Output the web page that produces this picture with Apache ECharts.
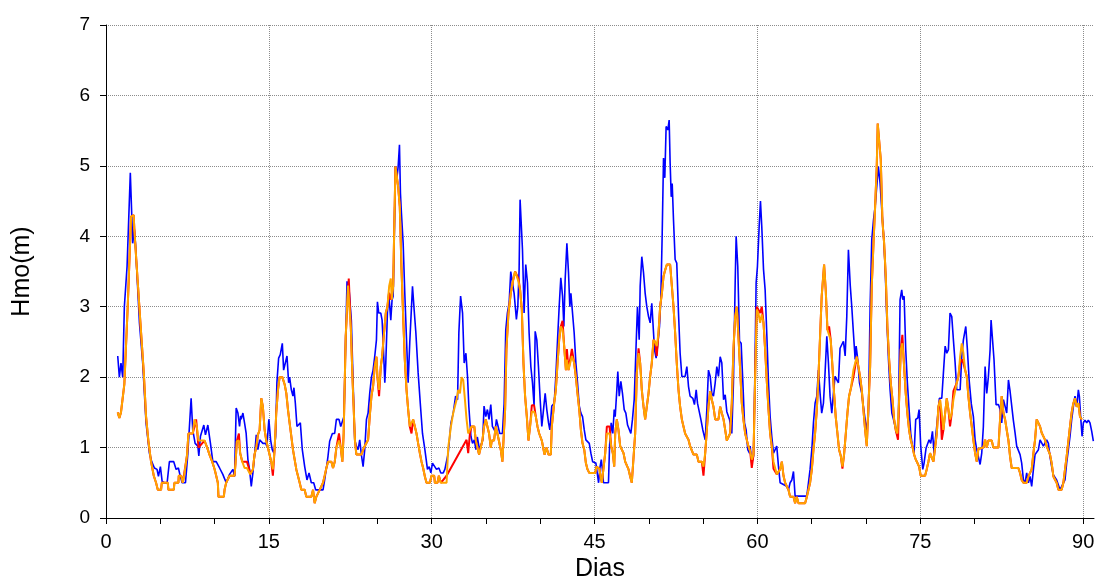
<!DOCTYPE html>
<html lang="es">
<head>
    <meta charset="UTF-8">
    <title>Hmo</title>
    <script src="https://cdn.jsdelivr.net/npm/echarts@6/dist/echarts.min.js"></script>
    <style>
        body { margin: 0; background: #fff; }
    </style>
</head>
<body>

<div id="main" style="width: 1097px;height:580px;"></div>
<script type="text/javascript">

    // eje x
    var xLabelTicks = [0, 15, 30, 45, 60, 75, 90];
    var xSmallTicks = [0, 5, 10, 15, 20, 25, 30, 35, 40, 45, 50, 55, 60, 65, 70, 75, 80, 85, 90];
    var yLabelTicks = [0, 1, 2, 3, 4, 5, 6, 7];

    // serie azul
    var blueDays = [1.08, 1.23, 1.38, 1.54, 1.69, 1.94, 2.24, 2.46, 2.61, 2.71, 2.86, 3.08, 3.38, 3.69, 4.00, 4.21, 4.46, 4.70, 4.83, 5.01,
        5.17, 5.38, 5.63, 5.84, 6.24, 6.46, 6.67, 6.80, 7.01, 7.32, 7.53, 7.69, 7.84, 7.99, 8.21, 8.46, 8.55, 8.70, 9.01, 9.16,
        9.38, 9.62, 9.84, 10.15, 10.46, 10.76, 11.07, 11.38, 11.69, 11.84, 11.99, 12.15, 12.30, 12.40, 12.45, 12.61, 12.76, 12.91, 13.07, 13.22,
        13.38, 13.53, 13.68, 13.84, 13.99, 14.15, 14.30, 14.45, 14.70, 14.82, 15.00, 15.16, 15.31, 15.47, 15.62, 15.74, 15.90, 16.05, 16.24, 16.36,
        16.54, 16.67, 16.82, 16.91, 17.07, 17.22, 17.31, 17.44, 17.59, 17.77, 17.90, 18.08, 18.30, 18.51, 18.70, 18.91, 19.13, 19.31, 19.99, 20.14,
        20.30, 20.45, 20.60, 20.85, 21.06, 21.22, 21.46, 21.62, 21.77, 21.92, 22.08, 22.20, 22.39, 22.60, 22.91, 23.06, 23.22, 23.37, 23.52, 23.68,
        23.83, 23.99, 24.14, 24.29, 24.45, 24.60, 24.75, 24.91, 25.00, 25.12, 25.31, 25.43, 25.52, 25.68, 25.77, 25.92, 26.04, 26.23, 26.35, 26.45,
        26.54, 26.66, 26.81, 26.91, 27.03, 27.12, 27.21, 27.37, 27.52, 27.68, 27.83, 27.98, 28.14, 28.23, 28.38, 28.54, 28.75, 28.97, 29.15, 29.37,
        29.61, 29.77, 29.92, 30.07, 30.23, 30.44, 30.66, 30.84, 31.06, 31.21, 31.52, 31.77, 31.98, 32.20, 32.38, 32.50, 32.66, 32.84, 32.99, 33.15,
        33.30, 33.42, 33.61, 33.76, 33.92, 34.07, 34.20, 34.40, 34.55, 34.70, 34.82, 34.98, 35.13, 35.28, 35.44, 35.59, 35.74, 35.84, 35.96, 36.14,
        36.27, 36.51, 36.67, 36.82, 36.97, 37.13, 37.28, 37.43, 37.59, 37.74, 37.80, 37.93, 38.05, 38.14, 38.30, 38.36, 38.51, 38.66, 38.82, 38.97,
        39.13, 39.28, 39.43, 39.53, 39.68, 39.83, 39.99, 40.14, 40.30, 40.45, 40.60, 40.76, 40.88, 41.06, 41.28, 41.43, 41.59, 41.74, 41.89, 42.05,
        42.17, 42.29, 42.45, 42.60, 42.72, 42.82, 42.97, 43.12, 43.28, 43.43, 43.59, 43.74, 43.89, 44.05, 44.20, 44.35, 44.51, 44.66, 44.82, 44.97,
        45.12, 45.37, 45.49, 45.62, 45.72, 45.82, 46.28, 46.38, 46.53, 46.68, 46.81, 46.90, 47.05, 47.14, 47.27, 47.42, 47.57, 47.73, 47.88, 48.04,
        48.19, 48.34, 48.49, 48.65, 48.80, 48.95, 49.11, 49.20, 49.35, 49.51, 49.66, 49.81, 49.97, 50.12, 50.27, 50.43, 50.52, 50.67, 50.80, 50.98,
        51.10, 51.23, 51.35, 51.47, 51.59, 51.75, 51.87, 51.96, 52.06, 52.15, 52.27, 52.42, 52.57, 52.73, 52.88, 53.04, 53.34, 53.50, 53.65, 53.80,
        54.05, 54.20, 54.36, 54.48, 54.66, 54.79, 54.97, 55.19, 55.34, 55.49, 55.65, 55.80, 55.95, 56.11, 56.26, 56.41, 56.57, 56.72, 56.88, 57.03,
        57.18, 57.33, 57.43, 57.58, 57.64, 57.79, 57.95, 58.04, 58.19, 58.35, 58.50, 58.66, 58.81, 58.96, 59.11, 59.27, 59.33, 59.48, 59.64, 59.73,
        59.88, 60.00, 60.16, 60.28, 60.40, 60.56, 60.71, 60.87, 61.02, 61.17, 61.32, 61.48, 61.63, 61.78, 61.94, 62.09, 62.70, 62.86, 63.01, 63.17,
        63.32, 63.47, 64.55, 64.70, 64.85, 65.01, 65.16, 65.31, 65.47, 65.62, 65.77, 65.92, 66.08, 66.23, 66.39, 66.54, 66.69, 66.85, 67.00, 67.15,
        67.31, 67.46, 67.61, 67.77, 67.92, 68.08, 68.23, 68.38, 68.55, 68.69, 68.84, 69.00, 69.09, 69.21, 69.40, 69.61, 69.76, 69.92, 70.07, 70.22,
        70.38, 70.53, 70.69, 70.84, 70.99, 71.14, 71.30, 71.45, 71.61, 71.76, 71.91, 72.07, 72.22, 72.38, 72.53, 72.68, 72.83, 72.99, 73.14, 73.29,
        73.39, 73.51, 73.66, 73.81, 73.97, 74.12, 74.27, 74.43, 74.58, 74.77, 74.89, 75.04, 75.23, 75.35, 75.53, 75.66, 75.81, 75.96, 76.12, 76.27,
        76.42, 76.58, 76.76, 76.98, 77.13, 77.29, 77.44, 77.59, 77.74, 77.90, 78.05, 78.21, 78.36, 78.67, 78.82, 78.97, 79.19, 79.34, 79.50, 79.70,
        79.89, 80.05, 80.20, 80.35, 80.51, 80.66, 80.81, 80.97, 81.12, 81.27, 81.43, 81.52, 81.67, 81.79, 81.98, 82.20, 82.35, 82.50, 82.66, 82.81,
        82.96, 83.12, 83.27, 83.42, 83.57, 83.73, 83.88, 84.03, 84.19, 84.34, 84.50, 84.65, 84.80, 84.96, 85.11, 85.26, 85.42, 85.57, 85.72, 85.88,
        86.03, 86.18, 86.34, 86.49, 86.64, 86.80, 86.95, 87.10, 87.26, 87.41, 87.56, 87.72, 87.87, 88.02, 88.18, 88.33, 88.48, 88.64, 88.79, 88.94,
        89.10, 89.25, 89.41, 89.56, 89.65, 89.77, 89.90, 90.02, 90.17, 90.33, 90.48, 90.63, 90.79, 90.94];
    var blueHmo = [2.30, 2.00, 2.20, 2.00, 3.00, 3.57, 4.90, 3.90, 4.10, 3.90, 3.90, 2.77, 2.20, 1.35, 0.92, 0.80, 0.71, 0.69, 0.59, 0.73,
        0.52, 0.50, 0.50, 0.80, 0.80, 0.69, 0.71, 0.62, 0.50, 0.50, 0.90, 0.92, 1.70, 1.25, 1.06, 1.02, 0.88, 1.16, 1.32, 1.18,
        1.32, 1.06, 0.80, 0.80, 0.71, 0.62, 0.50, 0.62, 0.69, 0.59, 1.56, 1.49, 1.30, 1.45, 1.40, 1.49, 1.35, 1.20, 0.83, 0.69,
        0.45, 0.64, 0.88, 1.18, 0.97, 1.11, 1.09, 1.06, 1.06, 1.02, 1.40, 1.11, 0.97, 0.92, 1.16, 1.92, 2.27, 2.32, 2.48, 2.10,
        2.10, 2.30, 1.92, 2.00, 1.82, 1.73, 1.85, 1.63, 1.30, 1.30, 1.35, 0.97, 0.73, 0.54, 0.64, 0.50, 0.50, 0.40, 0.40, 0.54,
        0.71, 0.88, 1.09, 1.20, 1.20, 1.40, 1.40, 1.30, 1.30, 1.44, 2.58, 3.36, 3.24, 2.80, 1.11, 1.02, 0.97, 1.11, 0.90, 0.73,
        0.97, 1.40, 1.49, 1.77, 2.00, 2.10, 2.29, 2.53, 3.07, 2.91, 2.91, 2.81, 2.53, 1.92, 2.20, 2.91, 3.19, 2.81, 3.10, 3.15,
        3.90, 4.99, 4.85, 4.99, 5.30, 4.61, 4.33, 3.90, 3.19, 2.53, 1.92, 2.50, 2.50, 3.29, 2.96, 2.63, 2.06, 1.58, 1.20, 0.97,
        0.69, 0.73, 0.64, 0.78, 0.80, 0.69, 0.71, 0.64, 0.64, 0.69, 0.92, 1.35, 1.49, 1.73, 1.68, 2.63, 3.15, 2.91, 2.20, 2.34,
        2.00, 1.58, 1.16, 1.06, 1.11, 0.97, 1.15, 0.97, 0.97, 1.11, 1.59, 1.44, 1.54, 1.40, 1.61, 1.30, 1.30, 1.23, 1.40, 1.40,
        1.20, 1.20, 1.63, 2.67, 2.91, 3.05, 3.50, 3.50, 3.19, 3.19, 2.82, 3.00, 3.53, 4.52, 4.52, 3.81, 2.91, 3.60, 3.34, 2.63,
        2.15, 1.92, 1.59, 2.65, 2.53, 2.15, 1.68, 1.30, 1.28, 1.77, 1.54, 1.35, 1.25, 1.59, 1.63, 2.01, 2.53, 3.00, 3.41, 3.15,
        2.72, 3.38, 3.90, 3.48, 3.00, 3.19, 3.19, 2.63, 2.20, 1.92, 1.59, 1.49, 1.44, 1.25, 1.11, 1.09, 1.06, 0.92, 0.80, 0.80,
        0.78, 0.50, 0.71, 0.83, 0.69, 0.50, 0.50, 1.02, 1.35, 1.20, 1.54, 1.44, 1.82, 2.08, 1.73, 1.94, 1.77, 1.54, 1.49, 1.32,
        1.30, 1.20, 1.40, 1.68, 2.34, 3.00, 2.53, 3.29, 3.71, 3.48, 3.19, 3.00, 2.86, 2.77, 3.05, 2.63, 2.39, 2.27, 2.44, 2.72,
        3.10, 4.04, 5.11, 4.83, 5.56, 5.51, 5.65, 5.04, 4.56, 4.75, 4.23, 3.67, 3.62, 2.91, 2.34, 2.01, 2.01, 2.15, 1.87, 1.73,
        1.70, 1.61, 1.82, 1.63, 1.63, 1.40, 1.25, 1.11, 1.54, 2.10, 2.01, 1.77, 1.73, 1.92, 2.15, 2.01, 2.29, 2.20, 1.68, 1.75,
        1.51, 1.49, 1.40, 1.40, 1.20, 1.92, 3.34, 4.00, 3.57, 2.51, 2.48, 1.92, 1.35, 1.25, 0.97, 0.92, 1.02, 0.78, 0.88, 1.68,
        3.34, 3.57, 4.14, 4.50, 4.14, 3.53, 3.24, 2.58, 1.92, 1.44, 1.16, 0.92, 0.90, 1.02, 0.73, 0.50, 0.45, 0.40, 0.50, 0.54,
        0.66, 0.31, 0.31, 0.50, 0.69, 0.97, 1.35, 1.63, 1.73, 2.10, 1.77, 1.49, 1.63, 2.06, 2.58, 2.20, 1.73, 1.49, 1.77, 2.01,
        1.96, 1.92, 2.41, 2.39, 2.51, 2.30, 2.86, 3.81, 3.30, 3.00, 2.63, 2.25, 2.44, 2.29, 1.92, 1.77, 1.58, 1.40, 1.25, 1.44,
        3.00, 3.95, 4.23, 4.42, 4.42, 4.99, 4.75, 4.38, 4.04, 3.57, 2.86, 2.25, 1.82, 1.49, 1.40, 1.40, 1.20, 1.44, 3.10, 3.24,
        3.10, 3.15, 2.39, 1.92, 1.54, 1.20, 1.02, 0.92, 1.40, 1.42, 1.54, 1.02, 0.69, 0.78, 0.99, 0.99, 1.11, 1.06, 1.23, 0.92,
        1.16, 1.40, 1.70, 1.70, 2.06, 2.44, 2.34, 2.39, 2.91, 2.86, 2.53, 2.20, 1.82, 1.82, 2.29, 2.53, 2.72, 2.39, 1.96, 1.62,
        1.44, 1.11, 0.97, 0.87, 0.76, 0.92, 1.30, 2.15, 1.77, 2.00, 2.39, 2.81, 2.81, 2.25, 1.61, 1.61, 1.54, 1.35, 1.68, 1.68,
        1.49, 1.96, 1.80, 1.80, 1.39, 1.21, 1.02, 1.00, 0.90, 0.78, 0.54, 0.50, 0.64, 0.50, 0.59, 0.45, 0.69, 0.90, 0.90, 0.97,
        1.11, 1.09, 1.02, 1.02, 1.11, 1.06, 0.87, 0.73, 0.61, 0.59, 0.54, 0.47, 0.40, 0.38, 0.50, 0.54, 0.78, 0.97, 1.16, 1.39,
        1.58, 1.73, 1.58, 1.82, 1.73, 1.44, 1.16, 1.35, 1.39, 1.35, 1.39, 1.35, 1.23, 1.09];

    // serie naranja
    var orangeDays = [1.08, 1.23, 1.38, 1.54, 1.69, 2.00, 2.31, 2.55, 2.61, 2.86, 3.17, 3.48, 3.69, 3.90, 4.15, 4.40, 4.61, 4.77, 5.07, 5.14,
        5.69, 5.75, 6.24, 6.30, 6.67, 6.70, 6.92, 7.07, 7.20, 7.47, 7.59, 7.99, 8.15, 8.30, 8.36, 8.52, 9.07, 9.32, 9.53, 9.78,
        9.99, 10.15, 10.30, 10.36, 10.85, 10.92, 11.07, 11.38, 11.84, 11.93, 12.05, 12.24, 12.36, 12.55, 12.76, 12.98, 13.16, 13.28, 13.53, 13.68,
        13.84, 13.99, 14.15, 14.30, 14.45, 14.61, 14.76, 14.91, 15.07, 15.22, 15.37, 15.53, 15.68, 15.84, 15.99, 16.24, 16.45, 16.61, 16.76, 16.91,
        17.07, 17.22, 17.53, 17.84, 17.99, 18.30, 18.45, 18.91, 19.07, 19.22, 19.37, 19.53, 19.68, 19.99, 20.14, 20.30, 20.45, 20.76, 20.91, 21.07,
        21.22, 21.46, 21.62, 21.77, 21.89, 22.08, 22.29, 22.55, 22.72, 22.93, 23.06, 23.52, 23.77, 24.14, 24.29, 24.45, 24.60, 24.75, 24.91, 25.00,
        25.15, 25.31, 25.43, 25.61, 25.77, 25.92, 26.08, 26.23, 26.32, 26.45, 26.54, 26.66, 26.91, 27.06, 27.21, 27.37, 27.52, 27.68, 27.83, 27.98,
        28.14, 28.29, 28.44, 28.60, 28.75, 28.91, 29.06, 29.21, 29.37, 29.52, 29.83, 29.98, 30.23, 30.29, 30.53, 30.66, 30.84, 31.37, 31.52, 31.77,
        31.98, 32.13, 32.29, 32.44, 32.60, 32.75, 32.90, 33.06, 33.21, 33.36, 33.52, 33.67, 33.92, 34.05, 34.21, 34.36, 34.51, 34.67, 34.82, 34.98,
        35.13, 35.28, 35.44, 35.53, 35.74, 35.90, 36.05, 36.21, 36.36, 36.51, 36.67, 36.76, 36.88, 37.07, 37.28, 37.50, 37.68, 37.86, 37.99, 38.14,
        38.30, 38.45, 38.60, 38.76, 38.91, 39.06, 39.22, 39.43, 39.59, 39.74, 39.90, 40.14, 40.30, 40.39, 40.57, 40.76, 40.97, 41.06, 41.28, 41.43,
        41.59, 41.74, 41.89, 42.05, 42.20, 42.36, 42.45, 42.60, 42.75, 42.91, 43.12, 43.28, 43.43, 43.59, 43.74, 43.89, 44.05, 44.20, 44.35, 44.51,
        45.06, 45.18, 45.45, 45.55, 45.67, 45.82, 45.98, 46.13, 46.38, 46.53, 46.68, 46.81, 46.90, 47.05, 47.20, 47.36, 47.51, 47.67, 47.82, 47.97,
        48.13, 48.28, 48.43, 48.58, 48.74, 48.89, 49.05, 49.20, 49.35, 49.51, 49.66, 49.81, 49.97, 50.12, 50.27, 50.43, 50.58, 50.73, 50.89, 51.04,
        51.20, 51.35, 51.50, 51.66, 51.96, 52.12, 52.27, 52.42, 52.57, 52.73, 52.88, 53.04, 53.19, 53.34, 53.50, 53.65, 53.80, 53.96, 54.11, 54.42,
        54.57, 54.88, 55.03, 55.19, 55.34, 55.49, 55.65, 55.80, 55.95, 56.11, 56.41, 56.57, 56.72, 56.88, 57.03, 57.18, 57.33, 57.48, 57.64, 57.79,
        57.95, 58.10, 58.25, 58.41, 58.56, 58.71, 58.87, 59.02, 59.17, 59.33, 59.48, 59.64, 59.79, 59.94, 60.09, 60.25, 60.40, 60.56, 60.71, 60.87,
        61.02, 61.17, 61.32, 61.48, 61.63, 61.78, 61.94, 62.09, 62.25, 62.40, 62.55, 62.70, 62.86, 63.01, 63.32, 63.47, 63.62, 63.78, 64.39, 64.55,
        64.70, 64.85, 65.01, 65.16, 65.31, 65.47, 65.62, 65.77, 65.92, 66.14, 66.29, 66.45, 66.60, 66.75, 66.91, 67.06, 67.21, 67.37, 67.52, 67.68,
        67.83, 67.98, 68.14, 68.29, 68.44, 68.62, 68.84, 69.00, 69.15, 69.30, 69.46, 69.61, 69.76, 69.92, 70.07, 70.22, 70.38, 70.53, 70.69, 70.84,
        70.99, 71.08, 71.24, 71.36, 71.51, 71.67, 71.82, 71.97, 72.13, 72.28, 72.44, 72.59, 72.74, 72.89, 73.05, 73.20, 73.35, 73.51, 73.66, 73.81,
        73.97, 74.12, 74.27, 74.43, 74.58, 74.74, 74.89, 75.04, 75.44, 75.59, 75.75, 75.90, 76.06, 76.21, 76.36, 76.52, 76.67, 76.82, 76.98, 77.13,
        77.29, 77.44, 77.59, 77.74, 77.90, 78.05, 78.21, 78.36, 78.51, 78.67, 78.82, 78.97, 79.13, 79.28, 79.43, 79.59, 79.74, 79.89, 80.05, 80.20,
        80.35, 80.81, 80.97, 81.12, 81.27, 81.58, 81.73, 82.20, 82.35, 82.50, 82.66, 82.81, 82.96, 83.12, 83.27, 83.42, 84.03, 84.19, 84.34, 84.50,
        84.80, 84.96, 85.11, 85.26, 85.42, 85.57, 85.72, 85.88, 86.03, 86.18, 86.34, 86.49, 86.64, 86.80, 86.95, 87.10, 87.26, 87.41, 87.56, 87.72,
        88.02, 88.18, 88.33, 88.48, 88.64, 88.79, 88.94, 89.10, 89.25, 89.41, 89.56, 89.71, 89.87];
    var orangeHmo = [1.50, 1.42, 1.50, 1.50, 1.90, 3.00, 4.28, 4.30, 4.10, 3.50, 2.77, 2.06, 1.44, 1.10, 0.80, 0.60, 0.50, 0.40, 0.40, 0.50,
        0.50, 0.40, 0.40, 0.50, 0.50, 0.60, 0.60, 0.50, 0.60, 0.90, 1.20, 1.20, 1.40, 1.40, 1.30, 1.10, 1.10, 1.00, 0.90, 0.80,
        0.70, 0.60, 0.50, 0.30, 0.30, 0.40, 0.50, 0.60, 0.60, 0.78, 1.09, 1.10, 0.92, 0.80, 0.71, 0.71, 0.71, 0.62, 0.69, 0.90,
        1.00, 1.18, 1.25, 1.70, 1.58, 1.25, 1.10, 1.00, 1.00, 0.80, 0.69, 0.97, 1.49, 1.82, 2.00, 2.00, 1.90, 1.77, 1.54, 1.35,
        1.16, 0.97, 0.69, 0.50, 0.40, 0.40, 0.30, 0.30, 0.40, 0.21, 0.30, 0.30, 0.40, 0.50, 0.60, 0.71, 0.80, 0.80, 0.71, 0.80,
        1.00, 1.10, 1.00, 0.80, 1.20, 2.58, 3.30, 2.70, 1.92, 1.10, 0.90, 0.90, 1.00, 1.11, 1.44, 1.73, 1.87, 2.15, 2.29, 2.00,
        1.82, 2.15, 2.29, 2.63, 2.91, 3.00, 3.29, 3.40, 3.10, 3.29, 4.04, 4.99, 4.70, 4.42, 3.57, 2.86, 2.25, 1.82, 1.54, 1.30,
        1.30, 1.40, 1.40, 1.20, 1.06, 0.92, 0.80, 0.71, 0.59, 0.50, 0.50, 0.60, 0.60, 0.50, 0.50, 0.60, 0.50, 0.50, 1.00, 1.30,
        1.49, 1.49, 1.68, 1.82, 1.77, 2.00, 1.96, 1.68, 1.40, 1.20, 1.20, 1.30, 1.30, 1.11, 1.00, 0.90, 0.90, 1.10, 1.30, 1.40,
        1.40, 1.20, 1.00, 1.10, 1.10, 1.30, 1.20, 1.20, 0.97, 0.80, 0.80, 1.54, 2.39, 2.91, 3.19, 3.38, 3.50, 3.50, 3.36, 3.24,
        2.96, 2.20, 1.73, 1.44, 1.10, 1.30, 1.51, 1.51, 1.44, 1.30, 1.20, 1.10, 1.10, 0.90, 1.00, 0.90, 0.90, 1.30, 1.63, 1.82,
        2.20, 2.53, 2.72, 2.67, 2.44, 2.10, 2.25, 2.10, 2.10, 2.30, 2.20, 2.00, 1.77, 1.54, 1.25, 1.06, 0.97, 0.78, 0.69, 0.64,
        0.64, 0.73, 0.70, 0.59, 0.50, 0.50, 0.92, 1.20, 1.20, 1.02, 0.92, 0.73, 1.20, 1.40, 1.25, 1.02, 1.00, 0.92, 0.80, 0.80,
        0.69, 0.59, 0.50, 0.50, 1.20, 2.06, 2.34, 2.20, 1.82, 1.58, 1.40, 1.40, 1.77, 2.01, 2.20, 2.53, 2.50, 2.44, 2.63, 3.00,
        3.19, 3.43, 3.52, 3.60, 3.60, 3.29, 3.00, 2.63, 2.20, 1.82, 1.58, 1.40, 1.30, 1.20, 1.20, 1.11, 1.02, 1.00, 0.90, 0.90,
        0.80, 0.80, 0.73, 0.92, 1.25, 1.58, 1.80, 1.68, 1.58, 1.40, 1.40, 1.58, 1.49, 1.40, 1.25, 1.10, 1.10, 1.20, 1.63, 2.39,
        2.86, 3.00, 2.58, 2.10, 1.63, 1.40, 1.20, 1.20, 1.02, 0.95, 0.83, 0.90, 2.00, 2.96, 2.91, 2.77, 2.89, 2.77, 2.39, 1.92,
        1.54, 1.20, 1.02, 0.80, 0.71, 0.62, 0.62, 0.69, 0.80, 0.60, 0.50, 0.50, 0.40, 0.30, 0.30, 0.21, 0.30, 0.21, 0.21, 0.30,
        0.40, 0.50, 0.69, 0.97, 1.20, 1.54, 2.00, 2.58, 3.15, 3.60, 3.24, 2.67, 2.60, 2.53, 2.15, 1.77, 1.44, 1.20, 0.97, 0.88,
        0.73, 0.90, 1.20, 1.49, 1.73, 1.85, 2.10, 2.10, 2.29, 2.29, 2.00, 1.82, 1.54, 1.25, 1.02, 1.02, 2.15, 3.29, 3.90, 4.42,
        4.99, 5.60, 5.60, 5.09, 4.23, 3.90, 3.43, 2.72, 2.25, 1.92, 1.68, 1.40, 1.25, 1.20, 1.68, 2.39, 2.48, 2.15, 1.77, 1.49,
        1.25, 1.11, 1.02, 0.90, 0.83, 0.78, 0.73, 0.60, 0.60, 0.69, 0.80, 0.92, 0.92, 0.80, 0.80, 1.20, 1.58, 1.68, 1.49, 1.25,
        1.49, 1.70, 1.54, 1.40, 1.49, 1.68, 1.68, 1.92, 2.01, 2.29, 2.48, 2.34, 2.10, 2.01, 1.73, 1.49, 1.30, 1.11, 0.92, 0.80,
        0.98, 1.00, 1.11, 1.00, 1.10, 1.10, 1.00, 1.00, 1.40, 1.73, 1.49, 1.40, 1.25, 1.10, 0.87, 0.71, 0.71, 0.64, 0.54, 0.50,
        0.50, 0.59, 0.59, 0.69, 0.92, 1.11, 1.40, 1.40, 1.30, 1.21, 1.21, 1.11, 1.02, 1.00, 0.90, 0.78, 0.59, 0.59, 0.50, 0.40,
        0.40, 0.50, 0.69, 0.87, 1.09, 1.30, 1.49, 1.63, 1.70, 1.58, 1.63, 1.44, 1.40];

    // serie roja (casi siempre bajo la naranja, con un hueco entre los dias 31 y 33)
    var redDays = [1.08, 1.23, 1.38, 1.54, 1.69, 2.00, 2.31, 2.55, 2.61, 2.86, 3.17, 3.48, 3.69, 3.90, 4.15, 4.40, 4.61, 4.77, 5.07, 5.14,
        5.69, 5.75, 6.24, 6.30, 6.67, 6.70, 6.92, 7.07, 7.20, 7.47, 7.59, 7.99, 8.15, 8.30, 8.36, 8.52, 9.07, 9.32, 9.53, 9.78,
        9.99, 10.15, 10.30, 10.36, 10.85, 10.92, 11.07, 11.38, 11.84, 11.93, 12.05, 12.24, 12.36, 12.55, 12.76, 12.98, 13.16, 13.28, 13.53, 13.68,
        13.84, 13.99, 14.15, 14.30, 14.45, 14.61, 14.76, 14.91, 15.07, 15.22, 15.37, 15.53, 15.68, 15.84, 15.99, 16.24, 16.45, 16.61, 16.76, 16.91,
        17.07, 17.22, 17.53, 17.84, 17.99, 18.30, 18.45, 18.91, 19.07, 19.22, 19.37, 19.53, 19.68, 19.99, 20.14, 20.30, 20.45, 20.76, 20.91, 21.07,
        21.22, 21.46, 21.62, 21.77, 21.89, 22.08, 22.36, 22.55, 22.72, 22.93, 23.06, 23.52, 23.77, 24.14, 24.29, 24.45, 24.60, 24.75, 24.91, 25.00,
        25.15, 25.31, 25.43, 25.61, 25.77, 25.92, 26.08, 26.23, 26.32, 26.45, 26.54, 26.66, 26.91, 27.06, 27.21, 27.37, 27.52, 27.68, 27.83, 27.98,
        28.14, 28.29, 28.44, 28.60, 28.75, 28.91, 29.06, 29.21, 29.37, 29.52, 29.83, 29.98, 30.23, 30.29, 30.53, 30.66, 30.84, 31.37, 33.21, 33.30,
        33.36, 33.52, 33.67, 33.92, 34.05, 34.21, 34.36, 34.51, 34.67, 34.82, 34.98,
        35.13, 35.28, 35.44, 35.53, 35.74, 35.90, 36.05, 36.21, 36.36, 36.51, 36.67, 36.76, 36.88, 37.07, 37.28, 37.50, 37.68, 37.86, 37.99, 38.14,
        38.30, 38.45, 38.60, 38.76, 38.91, 39.06, 39.22, 39.43, 39.59, 39.74, 39.90, 40.14, 40.30, 40.39, 40.57, 40.76, 40.97, 41.06, 41.28, 41.43,
        41.59, 41.74, 41.89, 42.05, 42.20, 42.36, 42.45, 42.60, 42.75, 42.91, 43.12, 43.28, 43.43, 43.59, 43.74, 43.89, 44.05, 44.20, 44.35, 44.51,
        45.06, 45.18, 45.45, 45.55, 45.67, 45.82, 45.98, 46.13, 46.38, 46.53, 46.68, 46.81, 46.90, 47.05, 47.20, 47.36, 47.51, 47.67, 47.82, 47.97,
        48.13, 48.28, 48.43, 48.58, 48.74, 48.89, 49.05, 49.20, 49.35, 49.51, 49.66, 49.81, 49.97, 50.12, 50.27, 50.43, 50.58, 50.73, 50.89, 51.04,
        51.20, 51.35, 51.50, 51.66, 51.96, 52.12, 52.27, 52.42, 52.57, 52.73, 52.88, 53.04, 53.19, 53.34, 53.50, 53.65, 53.80, 53.96, 54.11, 54.42,
        54.57, 54.88, 55.03, 55.19, 55.34, 55.49, 55.65, 55.80, 55.95, 56.11, 56.41, 56.57, 56.72, 56.88, 57.03, 57.18, 57.33, 57.48, 57.64, 57.79,
        57.95, 58.10, 58.25, 58.41, 58.56, 58.71, 58.87, 59.02, 59.17, 59.33, 59.48, 59.64, 59.79, 59.94, 60.09, 60.25, 60.40, 60.56, 60.71, 60.87,
        61.02, 61.17, 61.32, 61.48, 61.63, 61.78, 61.94, 62.09, 62.25, 62.40, 62.55, 62.70, 62.86, 63.01, 63.32, 63.47, 63.62, 63.78, 64.39, 64.55,
        64.70, 64.85, 65.01, 65.16, 65.31, 65.47, 65.62, 65.77, 65.92, 66.14, 66.29, 66.45, 66.60, 66.75, 66.91, 67.06, 67.21, 67.37, 67.52, 67.68,
        67.83, 67.98, 68.14, 68.29, 68.44, 68.62, 68.84, 69.00, 69.15, 69.30, 69.46, 69.61, 69.76, 69.92, 70.07, 70.22, 70.38, 70.53, 70.69, 70.84,
        70.99, 71.08, 71.24, 71.36, 71.51, 71.67, 71.82, 71.97, 72.13, 72.28, 72.44, 72.59, 72.74, 72.95, 73.05, 73.20, 73.35, 73.51, 73.66, 73.81,
        73.97, 74.12, 74.27, 74.43, 74.58, 74.74, 74.89, 75.04, 75.44, 75.59, 75.75, 75.90, 76.06, 76.21, 76.36, 76.52, 76.67, 76.82, 76.98, 77.13,
        77.29, 77.44, 77.59, 77.74, 77.90, 78.05, 78.21, 78.36, 78.51, 78.67, 78.82, 78.97, 79.13, 79.28, 79.43, 79.59, 79.74, 79.89, 80.05, 80.20,
        80.35, 80.81, 80.97, 81.12, 81.27, 81.58, 81.73, 82.20, 82.35, 82.50, 82.66, 82.81, 82.96, 83.12, 83.27, 83.42, 84.03, 84.19, 84.34, 84.50,
        84.80, 84.96, 85.11, 85.26, 85.42, 85.57, 85.72, 85.88, 86.03, 86.18, 86.34, 86.49, 86.64, 86.80, 86.95, 87.10, 87.26, 87.41, 87.56, 87.72,
        88.02, 88.18, 88.33, 88.48, 88.64, 88.79, 88.94, 89.10, 89.25, 89.41, 89.56, 89.71, 89.87];
    var redHmo = [1.50, 1.42, 1.50, 1.50, 1.90, 3.00, 4.28, 4.30, 4.10, 3.50, 2.77, 2.06, 1.44, 1.10, 0.80, 0.60, 0.50, 0.40, 0.40, 0.50,
        0.50, 0.40, 0.40, 0.50, 0.50, 0.60, 0.60, 0.50, 0.50, 0.90, 1.20, 1.20, 1.30, 1.40, 1.30, 1.00, 1.10, 1.00, 0.90, 0.80,
        0.70, 0.60, 0.50, 0.30, 0.30, 0.40, 0.50, 0.60, 0.60, 0.78, 1.09, 1.20, 0.92, 0.80, 0.80, 0.80, 0.71, 0.62, 0.69, 0.90,
        1.00, 1.18, 1.25, 1.70, 1.58, 1.25, 1.10, 1.00, 1.00, 0.80, 0.60, 0.97, 1.49, 1.82, 2.00, 2.00, 1.90, 1.77, 1.54, 1.35,
        1.16, 0.97, 0.69, 0.50, 0.40, 0.40, 0.30, 0.30, 0.40, 0.21, 0.30, 0.30, 0.40, 0.50, 0.60, 0.71, 0.80, 0.80, 0.71, 0.80,
        1.00, 1.20, 1.00, 0.80, 1.20, 2.58, 3.40, 2.70, 1.92, 1.10, 0.90, 0.90, 1.00, 1.11, 1.44, 1.73, 1.87, 2.15, 2.29, 2.00,
        1.73, 2.15, 2.29, 2.63, 2.91, 3.00, 3.20, 3.10, 3.10, 3.29, 4.04, 4.99, 4.70, 4.42, 3.57, 2.86, 2.25, 1.82, 1.54, 1.30,
        1.20, 1.40, 1.40, 1.20, 1.06, 0.92, 0.80, 0.71, 0.59, 0.50, 0.50, 0.60, 0.60, 0.50, 0.50, 0.60, 0.50, 0.60, 1.11, 1.00,
        0.92, 1.20, 1.30, 1.30, 1.11, 1.00, 0.90, 0.90, 1.10, 1.30, 1.40,
        1.40, 1.20, 1.00, 1.10, 1.10, 1.30, 1.20, 1.20, 0.97, 0.80, 0.80, 1.54, 2.39, 2.91, 3.19, 3.38, 3.50, 3.50, 3.40, 3.24,
        2.96, 2.20, 1.73, 1.44, 1.10, 1.30, 1.60, 1.60, 1.44, 1.30, 1.20, 1.10, 1.10, 0.90, 1.00, 0.90, 0.90, 1.30, 1.63, 1.82,
        2.20, 2.53, 2.72, 2.80, 2.44, 2.10, 2.40, 2.10, 2.10, 2.40, 2.20, 2.00, 1.77, 1.54, 1.25, 1.06, 0.97, 0.78, 0.69, 0.64,
        0.64, 0.73, 0.70, 0.59, 0.50, 0.50, 0.92, 1.30, 1.30, 1.02, 0.92, 0.73, 1.20, 1.40, 1.25, 1.02, 1.00, 0.92, 0.80, 0.80,
        0.69, 0.59, 0.50, 0.50, 1.20, 2.06, 2.41, 2.20, 1.82, 1.58, 1.40, 1.40, 1.77, 2.01, 2.20, 2.53, 2.50, 2.30, 2.63, 3.00,
        3.19, 3.43, 3.52, 3.60, 3.60, 3.29, 3.00, 2.63, 2.20, 1.82, 1.58, 1.40, 1.30, 1.20, 1.20, 1.11, 1.02, 1.00, 0.90, 0.90,
        0.80, 0.80, 0.60, 0.92, 1.25, 1.58, 1.80, 1.68, 1.58, 1.40, 1.40, 1.58, 1.49, 1.40, 1.25, 1.10, 1.10, 1.20, 1.63, 2.39,
        2.86, 3.00, 2.58, 2.10, 1.63, 1.40, 1.20, 1.20, 1.02, 0.95, 0.71, 0.90, 2.00, 3.00, 3.00, 2.91, 3.00, 2.77, 2.39, 1.92,
        1.54, 1.20, 1.02, 0.70, 0.71, 0.62, 0.62, 0.69, 0.80, 0.60, 0.50, 0.50, 0.40, 0.30, 0.30, 0.21, 0.30, 0.21, 0.21, 0.30,
        0.40, 0.50, 0.69, 0.97, 1.20, 1.54, 2.00, 2.58, 3.15, 3.60, 3.24, 2.67, 2.72, 2.53, 2.15, 1.77, 1.44, 1.20, 0.97, 0.88,
        0.70, 0.90, 1.20, 1.49, 1.73, 1.85, 2.00, 2.00, 2.29, 2.29, 2.00, 1.82, 1.54, 1.25, 1.02, 1.02, 2.15, 3.29, 3.90, 4.42,
        4.99, 5.60, 5.60, 5.09, 4.23, 3.90, 3.43, 2.72, 2.25, 1.92, 1.68, 1.40, 1.25, 1.11, 1.68, 2.39, 2.60, 2.15, 1.77, 1.49,
        1.25, 1.11, 1.02, 0.90, 0.83, 0.78, 0.73, 0.60, 0.60, 0.69, 0.80, 0.92, 0.92, 0.80, 0.80, 1.20, 1.58, 1.68, 1.11, 1.25,
        1.49, 1.70, 1.54, 1.30, 1.49, 1.80, 1.82, 1.92, 2.01, 2.20, 2.25, 2.20, 2.10, 2.01, 1.73, 1.49, 1.30, 1.11, 0.92, 0.80,
        0.98, 1.00, 1.11, 1.00, 1.10, 1.10, 1.00, 1.00, 1.40, 1.73, 1.49, 1.40, 1.25, 1.10, 0.87, 0.71, 0.71, 0.64, 0.54, 0.50,
        0.50, 0.59, 0.59, 0.69, 0.92, 1.11, 1.40, 1.40, 1.30, 1.21, 1.21, 1.11, 1.02, 1.00, 0.90, 0.78, 0.59, 0.59, 0.50, 0.40,
        0.40, 0.50, 0.69, 0.87, 1.09, 1.30, 1.50, 1.63, 1.70, 1.58, 1.63, 1.44, 1.40];

    function pares(dias, valores) {
        return dias.map(function (d, i) { return [d, valores[i]]; });
    }

    var fuente = '"Liberation Sans", Arial, sans-serif';

    var option = {
        animation: false,
        backgroundColor: '#ffffff',
        // outerBoundsMode none: que la rejilla no se encoja por las etiquetas
        grid: {left: 106, right: 3, top: 25, bottom: 62, outerBoundsMode: 'none'},
        xAxis: [{
            type: 'value',
            position: 'bottom',
            min: 0,
            max: 91,
            interval: 15,
            name: 'Dias',
            nameLocation: 'middle',
            nameGap: 37,
            nameTextStyle: {fontSize: 25, color: '#000', fontFamily: fuente},
            axisLine: {show: true, onZero: false, lineStyle: {color: '#000', width: 1}},
            axisTick: {show: false},
            axisLabel: {
                customValues: xLabelTicks,
                fontSize: 20, color: '#000', fontFamily: fuente, margin: 14
            },
            splitLine: {show: true, showMaxLine: false, lineStyle: {type: 'dotted', color: '#8c8c8c', width: 1}}
        }, {
            // solo las marcas cada 5 dias
            type: 'value',
            position: 'bottom',
            min: 0,
            max: 91,
            interval: 5,
            axisLine: {show: false},
            axisLabel: {show: false},
            splitLine: {show: false},
            axisTick: {show: true, customValues: xSmallTicks, length: 6, lineStyle: {color: '#000', width: 1}}
        }],
        yAxis: {
            type: 'value',
            min: 0,
            max: 7,
            interval: 1,
            name: 'Hmo(m)',
            nameLocation: 'middle',
            nameGap: 71,
            nameTextStyle: {fontSize: 25, color: '#000', fontFamily: fuente},
            axisLine: {show: true, onZero: false, lineStyle: {color: '#000', width: 1}},
            axisTick: {show: true, length: 6, lineStyle: {color: '#000'}},
            axisLabel: {
                customValues: yLabelTicks,
                fontSize: 19, color: '#000', fontFamily: fuente, margin: 16
            },
            splitLine: {show: true, lineStyle: {type: 'dotted', color: '#8c8c8c', width: 1}}
        },
        series: [{
            name: 'azul',
            type: 'line',
            xAxisIndex: 0,
            data: pares(blueDays, blueHmo),
            showSymbol: false,
            lineStyle: {color: '#0000ff', width: 1.6},
            itemStyle: {color: '#0000ff'}
        }, {
            name: 'rojo',
            type: 'line',
            xAxisIndex: 0,
            data: pares(redDays, redHmo),
            showSymbol: false,
            lineStyle: {color: '#ff0000', width: 2},
            itemStyle: {color: '#ff0000'}
        }, {
            name: 'naranja',
            type: 'line',
            xAxisIndex: 0,
            data: pares(orangeDays, orangeHmo),
            showSymbol: false,
            lineStyle: {color: '#ffa500', width: 2},
            itemStyle: {color: '#ffa500'}
        }]
    };

    var myChart = echarts.init(document.getElementById('main'));
    myChart.setOption(option);

</script>

</body>
</html>
